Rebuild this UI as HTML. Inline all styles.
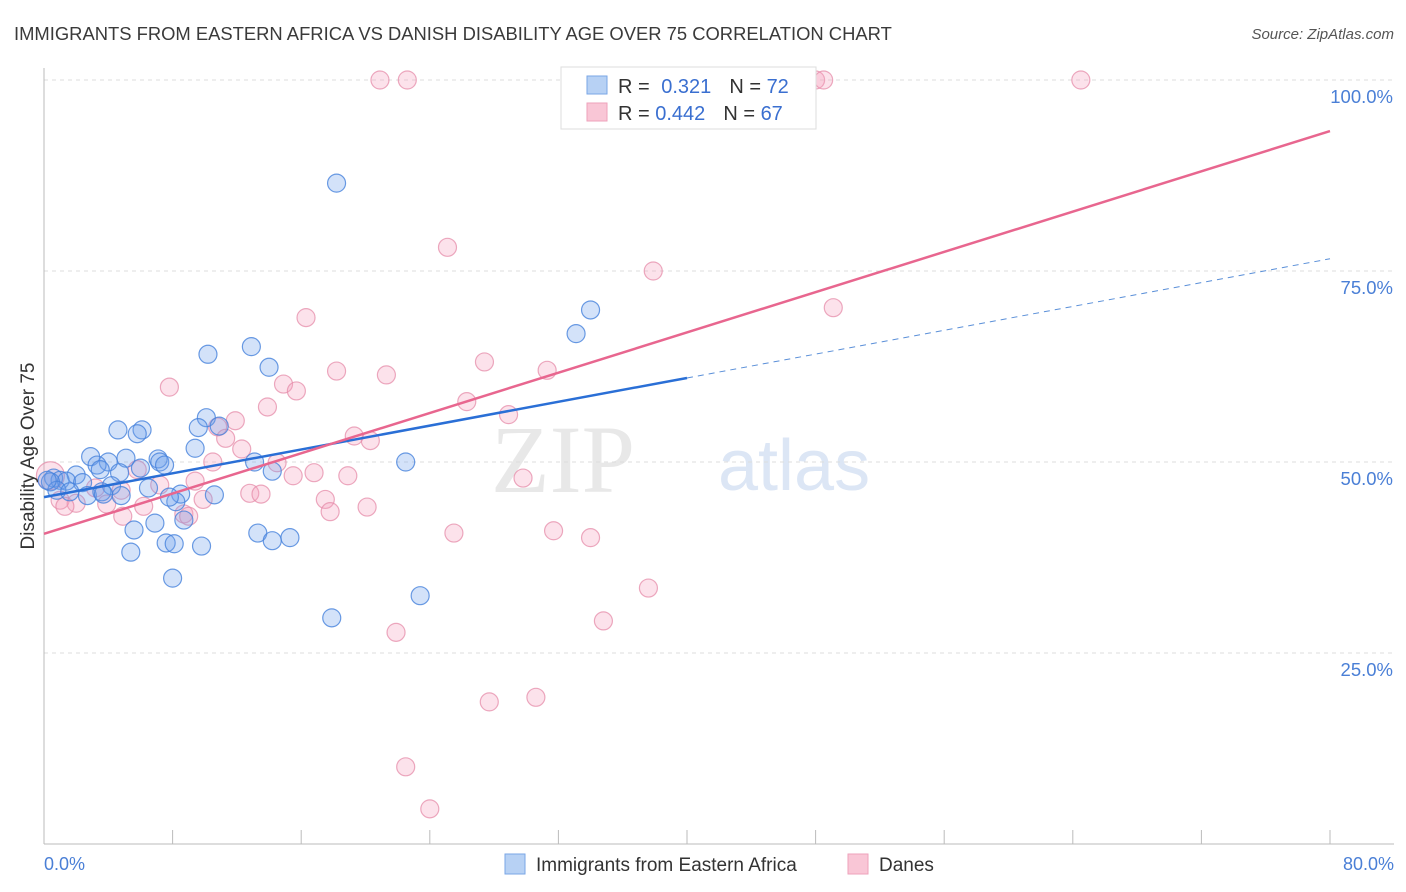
<!DOCTYPE html>
<html><head><meta charset="utf-8"><style>
body{margin:0;background:#fff;font-family:"Liberation Sans",sans-serif;}
svg{display:block}
</style></head><body>
<svg id="chart" width="1406" height="892">
<text x="14" y="40" font-size="18.4" fill="#3a3a3a">IMMIGRANTS FROM EASTERN AFRICA VS DANISH DISABILITY AGE OVER 75 CORRELATION CHART</text>
<text x="1394" y="39" font-size="15" fill="#555" font-style="italic" text-anchor="end">Source: ZipAtlas.com</text>
<text x="635" y="492" font-size="96" fill="#e8e8e8" text-anchor="end" font-family="Liberation Serif,serif">ZIP</text>
<text x="718" y="490" font-size="72" fill="#dce6f5">atlas</text>
<g id="grid"></g><g id="axes"></g><g id="pts"></g><g id="lines"></g>
<text x="34" y="456" font-size="19" fill="#333" text-anchor="middle" transform="rotate(-90 34 456)">Disability Age Over 75</text>
<g>
<rect x="561" y="67" width="255" height="62" fill="#fff" stroke="#ddd"/>
<rect x="587" y="76" width="20" height="18" fill="#b7d1f4" stroke="#7aa6e6"/>
<rect x="587" y="103" width="20" height="18" fill="#f9c6d6" stroke="#eea2bb"/>
<text x="618" y="93" font-size="20" fill="#333">R = <tspan fill="#3a6fd0" dx="6">0.321</tspan><tspan dx="18" fill="#333">N = </tspan><tspan fill="#3a6fd0">72</tspan></text>
<text x="618" y="120" font-size="20" fill="#333">R = <tspan fill="#3a6fd0">0.442</tspan><tspan dx="18" fill="#333">N = </tspan><tspan fill="#3a6fd0">67</tspan></text>
</g>
<g>
<rect x="505" y="854" width="20" height="20" fill="#b7d1f4" stroke="#7aa6e6"/>
<text x="536" y="871" font-size="19" fill="#333">Immigrants from Eastern Africa</text>
<rect x="848" y="854" width="20" height="20" fill="#f9c6d6" stroke="#eea2bb"/>
<text x="879" y="871" font-size="19" fill="#333">Danes</text>
</g>
</svg>
<script>
const blueX=[18.2,34.0,33.1,10.2,12.9,14.0,10.1,4.6,6.1,5.8,9.6,10.9,9.4,2.9,5.1,7.1,4.0,7.2,7.5,13.1,22.5,3.3,6.0,2.0,3.5,4.7,14.2,0.6,1.0,1.4,2.4,0.4,4.2,6.5,8.5,10.6,0.8,1.6,2.7,3.6,4.8,8.2,8.7,6.9,5.6,13.3,14.2,15.3,7.6,8.1,9.8,5.4,8.0,23.4,17.9,3.7,7.8,0.2];
const blueY=[86.5,69.9,66.8,64.1,65.1,62.4,55.8,54.2,54.2,53.7,54.5,54.7,51.8,50.7,50.5,50.4,50.0,50.0,49.6,50.0,50.0,49.6,49.2,48.3,49.0,48.6,48.8,47.9,47.6,47.5,47.3,47.4,46.9,46.6,45.8,45.7,46.3,46.1,45.6,46.1,45.6,44.8,42.4,42.0,41.1,40.7,39.7,40.1,39.4,39.3,39.0,38.2,34.8,32.5,29.6,45.8,45.4,47.6];
const pinkX=[20.9,22.6,48.0,48.5,64.5,25.1,37.9,49.1,16.3,27.4,18.2,31.3,21.3,7.8,14.9,15.7,26.3,13.9,28.9,11.9,10.8,19.3,20.3,11.3,12.3,10.5,14.5,5.8,16.8,18.9,15.5,29.8,9.4,7.2,0.4,3.2,4.8,12.8,13.5,17.5,9.9,1.0,2.0,3.9,6.2,20.1,17.8,8.7,4.9,1.3,25.5,31.7,34.0,37.6,34.8,21.9,30.6,27.7,22.5,24.0,9.0];
const pinkY=[100,100,100,100,100,78.1,75.0,70.2,68.9,63.1,61.9,62.0,61.4,59.8,60.2,59.3,57.9,57.2,56.2,55.4,54.6,53.4,52.8,53.1,51.7,50.0,49.9,49.0,48.6,48.2,48.2,47.9,47.5,47.0,48.2,46.6,46.3,45.9,45.8,45.1,45.1,45.0,44.6,44.5,44.2,44.1,43.5,43.2,42.9,44.2,40.7,41.0,40.1,33.5,29.2,27.7,19.2,18.6,10.1,4.6,42.9];
const blueTrend=[45.4,0.39]; // intercept, slope
const pinkTrend=[40.6,0.659];
const yTicks=[25,50,75,100];
const yTickLabels=["25.0%","50.0%","75.0%","100.0%"];
const xTicks=[0,8,16,24,32,40,48,56,64,72,80];
const NS="http://www.w3.org/2000/svg";
const sx=v=>44+v/80*1286, sy=v=>844-v/100*764;
function mk(tag,attrs,parent){const e=document.createElementNS(NS,tag);for(const k in attrs)e.setAttribute(k,attrs[k]);document.getElementById(parent).appendChild(e);return e;}
yTicks.forEach((t,i)=>{
 const g=mk('line',{x1:44,x2:1394,y1:sy(t),y2:sy(t),stroke:'#ddd','stroke-dasharray':'4,4'},'grid');
 
 
 const l=mk('text',{x:1393,y:sy(t)+23,'font-size':18.5,fill:'#4a7fd6','text-anchor':'end'},'grid');
 l.textContent=yTickLabels[i];
 
 
});
const ax=mk('line',{x1:44,x2:1394,y1:844,y2:844,stroke:'#bbb'},'axes');


const ay=mk('line',{x1:44,x2:44,y1:68,y2:844,stroke:'#bbb'},'axes');


xTicks.forEach(t=>{const k=mk('line',{x1:sx(t),x2:sx(t),y1:830,y2:844,stroke:'#bbb'},'axes');
 
 });
[[0,"0.0%",'start',44],[80,"80.0%",'end',1394]].forEach(a=>{const l=mk('text',{x:a[3],y:870,'font-size':18,fill:'#4a7fd6','text-anchor':a[2]},'axes');l.textContent=a[1];
 
 });
pinkX.forEach((x,i)=>{const c=mk('circle',{cx:sx(x),cy:sy(pinkY[i]),r:(i==34?14:9),fill:'rgba(244,160,188,0.3)',stroke:'rgba(230,140,170,0.75)','stroke-width':1.2},'pts');
 
 });
blueX.forEach((x,i)=>{const c=mk('circle',{cx:sx(x),cy:sy(blueY[i]),r:9,fill:'rgba(110,160,235,0.3)',stroke:'rgba(70,130,220,0.8)','stroke-width':1.2},'pts');
 
 });
const f=(t,x)=>t[0]+t[1]*x;
let l1=mk('line',{x1:sx(0),y1:sy(f(blueTrend,0)),x2:sx(40),y2:sy(f(blueTrend,40)),stroke:'#2a6fd6','stroke-width':2.5},'lines');


let l2=mk('line',{x1:sx(40),y1:sy(f(blueTrend,40)),x2:sx(80),y2:sy(f(blueTrend,80)),stroke:'#5a8fd8','stroke-width':1,'stroke-dasharray':'6,5'},'lines');


let l3=mk('line',{x1:sx(0),y1:sy(f(pinkTrend,0)),x2:sx(80),y2:sy(f(pinkTrend,80)),stroke:'#e8668f','stroke-width':2.5},'lines');


</script>
</body></html>
